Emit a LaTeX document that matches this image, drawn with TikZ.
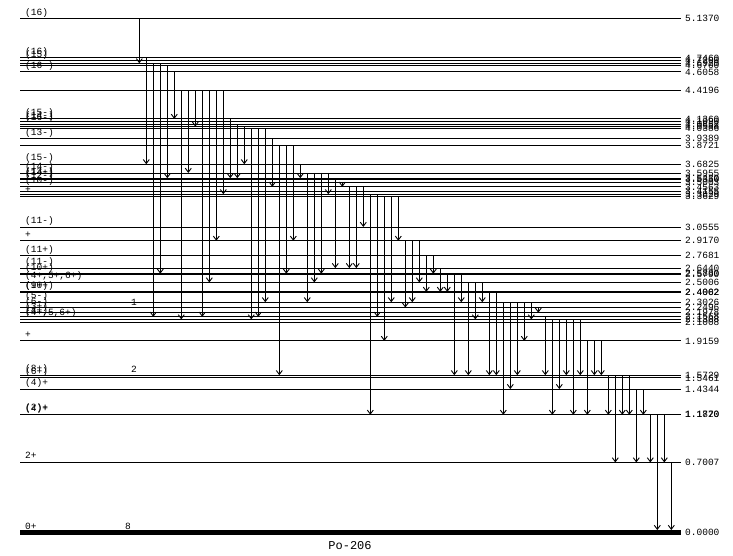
\documentclass[tikz,border=0pt]{standalone}
\usepackage{fontspec}
\setmonofont{Liberation Mono}
\usetikzlibrary{arrows.meta}

\tikzset{
  lvl/.style={line width=0.9pt},
  gam/.style={line width=0.9pt, -{Straight Barb[length=4pt,width=6pt]}},
  spinlab/.style={anchor=base west, inner sep=0pt, font=\ttfamily\fontsize{9.5}{9.5}\selectfont},
  enlab/.style={anchor=west, inner sep=0pt, font=\ttfamily\fontsize{9.5}{9.5}\selectfont}
}

\begin{document}
\begin{tikzpicture}[x=1pt, y=-1pt]
  \useasboundingbox (0,0) rectangle (733,555);

  % levels: energy / spin
  \foreach \e/\s [count=\i] in {5.1370/(16), 4.7460/(16), 4.7200/(15), 4.6920/{},
    4.6700/{}, 4.6058/(16-), 4.4196/{}, 4.1360/(15-), 4.1090/(14-), 4.0852/(16-),
    4.0588/{}, 4.0386/{}, 3.9389/(13-), 3.8721/{}, 3.6825/(15-), 3.5955/(14-),
    3.5430/(13-), 3.5350/(14+), 3.5003/(12-), 3.4563/(10-), 3.4155/{}, 3.3829/{},
    3.3629/+, 3.0555/(11-), 2.9170/+, 2.7681/(11+), 2.6440/(11-), 2.5880/(10+),
    2.5790/{}, 2.5006/{(4+,5+,6+)}, 2.4062/(10+), 2.4002/(9+), 2.3026/(5-),
    2.2496/(6-), 2.1978/(3+), 2.1568/(4+), 2.1308/{(4+,5,6+)}, 2.1008/{},
    1.9159/+, 1.5729/(8+), 1.5461/(6+), 1.4344/(4)+, 1.1820/(2)+, 1.1770/(4)+,
    0.7007/2+}
  {
    \pgfmathsetmacro{\yy}{532.5-100*\e}
    \draw[lvl] (20,\yy) -- (681,\yy);
    \node[spinlab] (s\i) at (25,\yy-3.5) {\s};
    \node[enlab] (e\i) at (685,\yy) {\e};
  }
  \draw[line width=5pt] (20,532.5) -- (681,532.5);
  \node[spinlab] (s0) at (25,529) {0+};
  \node[enlab] (e0) at (685,532.5) {0.0000};

  % band numbers
  \node[spinlab] (b1) at (131,305) {1};
  \node[spinlab] (b2) at (131,372) {2};
  \node[spinlab] (b8) at (125,529) {8};

  % gamma rays: column / from / to
  \foreach \k/\a/\b in {0/5.1370/4.6920, 1/4.7460/3.6825, 2/4.6920/2.1568,
    3/4.6920/2.5880, 4/4.6700/3.5430, 5/4.6058/4.1360, 6/4.4196/2.1308,
    7/4.4196/3.5955, 8/4.4196/4.0588, 9/4.4196/2.1568, 10/4.4196/2.5006,
    11/4.4196/2.9170, 12/4.4196/3.3829, 13/4.1360/3.5430, 14/4.0852/3.5430,
    15/4.0588/3.6825, 16/4.0386/2.1308, 17/4.0386/2.1568, 18/4.0386/2.3026,
    19/3.9389/3.4563, 20/3.8721/1.5729, 21/3.8721/2.5880, 22/3.8721/2.9170,
    23/3.6825/3.5430, 24/3.5955/2.3026, 25/3.5955/2.5006, 26/3.5955/2.5880,
    27/3.5955/3.3829, 28/3.5350/2.6440, 29/3.5003/3.4563, 30/3.4563/2.6440,
    31/3.4563/2.6440, 32/3.4563/3.0555, 33/3.3829/1.1770, 34/3.3829/2.1568,
    35/3.3629/1.9159, 36/3.3629/2.3026, 37/3.3629/2.9170, 38/2.9170/2.2496,
    39/2.9170/2.3026, 40/2.9170/2.5006, 41/2.7681/2.4062, 42/2.7681/2.5880,
    43/2.6440/2.4062, 44/2.5880/2.4062, 45/2.5880/1.5729, 46/2.5880/2.3026,
    47/2.5006/1.5729, 48/2.5006/2.1308, 49/2.5006/2.3026, 50/2.4062/1.5729,
    51/2.4062/1.5729, 52/2.3026/1.1770, 53/2.3026/1.4344, 54/2.3026/1.5729,
    55/2.3026/1.9159, 56/2.3026/2.1308, 57/2.2496/2.1978, 58/2.1568/1.5729,
    59/2.1308/1.1770, 60/2.1308/1.4344, 61/2.1308/1.5729, 62/2.1308/1.1770,
    63/2.1308/1.5729, 64/1.9159/1.1770, 65/1.9159/1.5729, 66/1.9159/1.5729,
    67/1.5729/1.1770, 68/1.5729/0.7007, 69/1.5729/1.1770, 70/1.5729/1.1770,
    71/1.4344/0.7007, 72/1.4344/1.1770, 73/1.1770/0.7007, 74/1.1770/0.0250,
    75/1.1770/0.7007, 76/0.7007/0.0250}
  {
    \pgfmathsetmacro{\xx}{139.3+7*\k}
    \coordinate (g\k a) at (\xx,{532.5-100*\a});
    \coordinate (g\k b) at (\xx,{532.5-100*\b});
    \draw[gam] (g\k a) -- (g\k b);
  }

  \node[font=\ttfamily\fontsize{12}{12}\selectfont, inner sep=0pt] (nuc) at (350,545.5) {Po-206};
\end{tikzpicture}
\end{document}
